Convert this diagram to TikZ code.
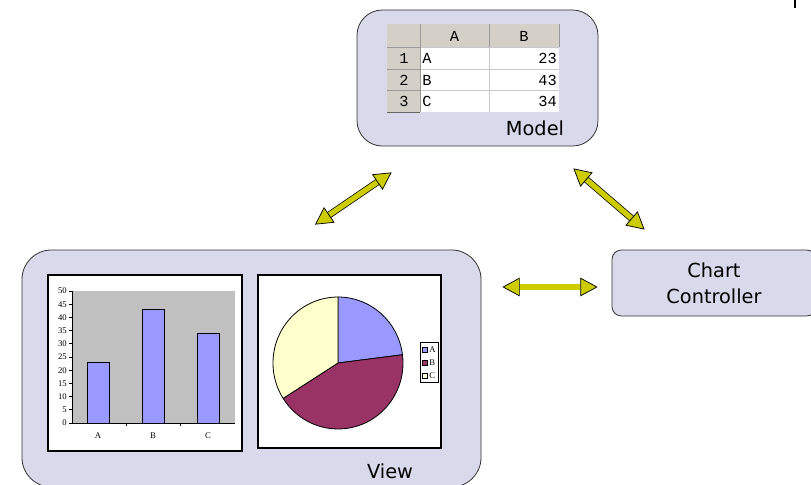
\documentclass[tikz,border=0pt]{standalone}
\usepackage{fontspec}
\setmainfont{DejaVu Sans}
\newfontfamily\cellfont{Liberation Mono}
\newfontfamily\axisfont{Liberation Serif}
\usetikzlibrary{positioning, arrows.meta, calc}
\definecolor{boxlilac}{RGB}{217, 217, 236}
\definecolor{linkyellow}{RGB}{204, 204, 0}
\definecolor{sheetgray}{RGB}{212, 208, 200}
\definecolor{gridgray}{RGB}{200, 200, 200}
\definecolor{plotgray}{RGB}{192, 192, 192}
\definecolor{barblue}{RGB}{153, 153, 255}
\definecolor{pieplum}{RGB}{153, 51, 102}
\definecolor{piecream}{RGB}{255, 255, 204}
\tikzset{
  part/.style={rectangle, draw=black!80, fill=boxlilac, line width=0.6pt, inner sep=0pt},
  partname/.style={font=\fontsize{14.5}{19.5}\selectfont, align=center, inner sep=0pt},
  chartframe/.style={draw=black, fill=white, line width=0.8pt},
  cell/.style={font=\cellfont\fontsize{11.5}{13}\selectfont, inner sep=0pt},
  axisnum/.style={font=\axisfont\fontsize{6.5}{7}\selectfont, inner sep=0pt},
  bar/.style={draw=black, fill=barblue, line width=0.6pt},
  slice/.style={draw=black, line width=0.6pt, line join=round},
  link/.style={double=linkyellow, double distance=4pt, line width=0.55pt,
    {Triangle[length=13pt, width=14pt, fill=linkyellow, line width=0.55pt]}-{Triangle[length=13pt, width=14pt, fill=linkyellow, line width=0.55pt]}},
}

\begin{document}
\begin{tikzpicture}[x=0.75pt, y=-0.75pt]
  \useasboundingbox (0,0) rectangle (811,485);
  \draw[line width=0.8pt] (795,0) -- (795,8);

  % the three parts
  \node[part, rounded corners=19pt, minimum width=180.75pt, minimum height=102pt] (model) at (477.5,78) {};
  \node[part, rounded corners=22pt, minimum width=344.25pt, minimum height=177.75pt] (view) at (251.5,368.5) {};
  \node[part, rounded corners=7pt, minimum width=153pt, minimum height=49.5pt] (ctrl) at (714,283) {};
  \node[partname, anchor=base] (modelname) at (535,136) {Model};
  \node[partname, anchor=base] (viewname) at (390,478) {View};
  \node[partname] (ctrlname) at (ctrl.center) {Chart\\Controller};

  % spreadsheet
  \fill[white] (387,24) rectangle (559,112);
  \fill[sheetgray] (387,24) rectangle (559,47);
  \fill[sheetgray] (387,24) rectangle (420,112);
  \foreach \y in {47,69,90} \draw[gridgray, line width=0.5pt] (420,\y) -- (559,\y);
  \draw[gridgray, line width=0.5pt] (489,47) -- (489,112);
  \foreach \y in {47,69,90} \draw[black!40, line width=0.5pt] (387,\y) -- (420,\y);
  \draw[black!40, line width=0.5pt] (420,24) -- (420,112) (489,24) -- (489,47) (559,24) -- (559,47);
  \draw[black!60, line width=0.6pt] (387,112) -- (420,112);
  \node[cell] (colA) at (454.5,36) {A};
  \node[cell] (colB) at (524,36) {B};
  \foreach \r/\name/\val/\y in {1/A/23/58, 2/B/43/80, 3/C/34/101} {
    \node[cell] (row\r) at (404,\y) {\r};
    \node[cell, anchor=west] (name\r) at (422,\y) {\name};
    \node[cell, anchor=east] (val\r) at (557,\y) {\val};
  }

  % bar chart
  \draw[chartframe] (48,275) rectangle (242,451);
  \fill[plotgray] (72,291) rectangle (235,423);
  \foreach \v in {0,5,...,50} {
    \draw[line width=0.5pt] (69,423-2.64*\v) -- (72,423-2.64*\v);
    \node[axisnum, anchor=east] at (67,423-2.64*\v) {\v};
  }
  \foreach \name/\val/\x in {A/23/98, B/43/153, C/34/208} {
    \draw[bar] (\x-11,423) rectangle (\x+11,423-2.64*\val);
    \node[axisnum] at (\x,436) {\name};
  }
  \draw[line width=0.6pt] (72,291) -- (72,423) -- (235,423);
  \foreach \x in {126,180} \draw[line width=0.5pt] (\x,423) -- (\x,426);

  % pie chart
  \draw[chartframe] (258,275) rectangle (441,448);
  \coordinate (pie) at (338,363);
  \filldraw[slice, fill=barblue] (pie) -- +(-90:65 and 66) arc[start angle=-90, end angle=-7.2, x radius=65, y radius=66] -- cycle;
  \filldraw[slice, fill=pieplum] (pie) -- +(-7.2:65 and 66) arc[start angle=-7.2, end angle=147.6, x radius=65, y radius=66] -- cycle;
  \filldraw[slice, fill=piecream] (pie) -- +(147.6:65 and 66) arc[start angle=147.6, end angle=270, x radius=65, y radius=66] -- cycle;
  \draw[black, fill=white, line width=0.6pt] (420,342) rectangle (438,382);
  \foreach \name/\col/\y in {A/barblue/350, B/pieplum/363, C/piecream/376} {
    \draw[fill=\col, line width=0.4pt] (422,\y-2.5) rectangle (427,\y+2.5);
    \node[axisnum, anchor=west] at (429,\y) {\name};
  }

  % links between the parts
  \coordinate (modelSW) at ($(model.south west)+(35,26)$);
  \coordinate (viewN) at ($(view.north)+(63.5,-25)$);
  \coordinate (modelSE) at ($(model.south east)+(-25,22)$);
  \coordinate (ctrlNW) at ($(ctrl.north west)+(33,-20)$);
  \coordinate (viewE) at ($(view.east)+(21,-81.5)$);
  \coordinate (ctrlW) at ($(ctrl.west)+(-14,4)$);
  \draw[link] (viewN) -- (modelSW);
  \draw[link] (modelSE) -- (ctrlNW);
  \draw[link] (viewE) -- (ctrlW);
\end{tikzpicture}
\end{document}
